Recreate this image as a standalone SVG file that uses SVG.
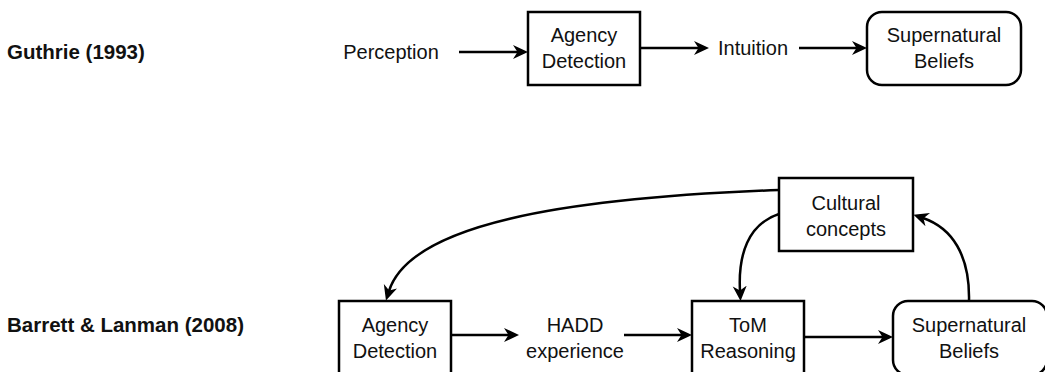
<svg xmlns="http://www.w3.org/2000/svg" width="1045" height="372" viewBox="0 0 1045 372">
<style>
.box{fill:#fff;stroke:#000;stroke-width:2.5}
.t{font-family:"Liberation Sans",Arial,sans-serif;font-size:20px;fill:#111;text-anchor:middle}
.h{font-family:"Liberation Sans",Arial,sans-serif;font-size:20.5px;font-weight:bold;fill:#111}
.c{fill:none;stroke:#000;stroke-width:2.5}
</style>
<defs>
<marker id="ah" markerUnits="userSpaceOnUse" markerWidth="17" markerHeight="16" refX="5" refY="7" orient="auto">
<path d="M0,0 L15,7 L0,14 L4.5,7 z" fill="#000"/>
</marker>
</defs>
<rect width="1045" height="372" fill="#fff"/>
<text class="h" x="7" y="59">Guthrie (1993)</text>
<text class="h" x="7" y="332">Barrett &amp; Lanman (2008)</text>

<g id="connectors">
<path class="c" d="M459 52 H518" marker-end="url(#ah)"/>
<path class="c" d="M640 48 H699" marker-end="url(#ah)"/>
<path class="c" d="M799 48 H857" marker-end="url(#ah)"/>
<path class="c" d="M451 335 H509" marker-end="url(#ah)"/>
<path class="c" d="M624 335 H682" marker-end="url(#ah)"/>
<path class="c" d="M804 337 H883" marker-end="url(#ah)"/>
<path class="c" d="M779 190 C560 198 410 225 389 291" marker-end="url(#ah)"/>
<path class="c" d="M779 214 C748 224 738 255 740 291" marker-end="url(#ah)"/>
<path class="c" d="M969 301 C970 255 952 228 923 218" marker-end="url(#ah)"/>
</g>

<g id="perception"><text class="t" x="391" y="59">Perception</text></g>
<g id="agency1"><rect class="box" x="528" y="12" width="112" height="73"/><text class="t" x="584" y="42">Agency</text><text class="t" x="584" y="68">Detection</text></g>
<g id="intuition"><text class="t" x="753" y="55">Intuition</text></g>
<g id="super1"><rect class="box" x="867" y="12" width="154" height="73" rx="15"/><text class="t" x="944" y="42">Supernatural</text><text class="t" x="944" y="68">Beliefs</text></g>

<g id="cultural"><rect class="box" x="779" y="178" width="134" height="73"/><text class="t" x="846" y="210">Cultural</text><text class="t" x="846" y="236">concepts</text></g>
<g id="agency2"><rect class="box" x="339" y="301" width="112" height="74"/><text class="t" x="395" y="332">Agency</text><text class="t" x="395" y="358">Detection</text></g>
<g id="hadd"><text class="t" x="575" y="332">HADD</text><text class="t" x="575" y="358">experience</text></g>
<g id="tom"><rect class="box" x="692" y="301" width="112" height="74"/><text class="t" x="748" y="332">ToM</text><text class="t" x="748" y="358">Reasoning</text></g>
<g id="super2"><rect class="box" x="893" y="301" width="154" height="74" rx="15"/><text class="t" x="969" y="332">Supernatural</text><text class="t" x="969" y="358">Beliefs</text></g>
</svg>
